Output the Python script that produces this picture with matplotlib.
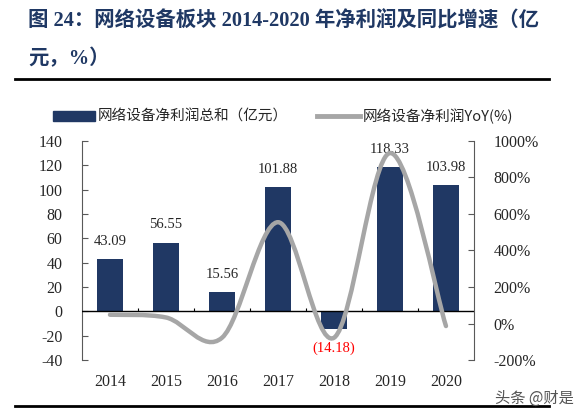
import matplotlib
matplotlib.use("Agg")
import matplotlib.pyplot as plt
from matplotlib.path import Path
from matplotlib.patches import PathPatch, Patch
from matplotlib.lines import Line2D
import numpy as np

# chart data
years = ["2014", "2015", "2016", "2017", "2018", "2019", "2020"]
profit = [43.09, 56.55, 15.56, 101.88, -14.18, 118.33, 103.98]   # 亿元
yoy = [48, 33, -78, 555, -78, 934, -14]
profit_labels = ["43.09", "56.55", "15.56", "101.88", "(14.18)", "118.33", "103.98"]

left_ticks = [-40, -20, 0, 20, 40, 60, 80, 100, 120, 140]
right_ticks = [-200, 0, 200, 400, 600, 800, 1000]

NAVY = "#203864"
GRAY = "#a6a6a6"
TXT = "#262626"
serif = ["Liberation Serif", "Noto Sans CJK SC"]
cjk = ["Noto Sans CJK SC", "DejaVu Sans"]


def smooth_path(xs, ys):
    # Excel style smoothed line: cubic bezier through each point
    pts = np.column_stack([xs, ys]).astype(float)
    ext = np.vstack([pts[0], pts, pts[-1]])
    verts = [pts[0]]
    codes = [Path.MOVETO]
    for i in range(len(pts) - 1):
        p0, p1, p2, p3 = ext[i], ext[i + 1], ext[i + 2], ext[i + 3]
        verts += [p1 + (p2 - p0) / 6, p2 - (p3 - p1) / 6, p2]
        codes += [Path.CURVE4] * 3
    return Path(verts, codes)


fig = plt.figure(figsize=(5.84, 4.19), dpi=100)
ax = fig.add_axes([0.1404, 0.1408, 0.6712, 0.5227])
x = np.arange(len(years))

ax.bar(x, profit, width=0.46, color=NAVY, zorder=2)
ax.axhline(0, color="black", lw=1, zorder=3)
# small ticks on the zero line between categories
ax.vlines(x[:-1] + 0.5, 0, 2.5, color="black", lw=0.8, zorder=3)

for xi, v, lab in zip(x, profit, profit_labels):
    if v >= 0:
        ax.annotate(lab, (xi, v), xytext=(0, 8), textcoords="offset points",
                    ha="center", va="bottom", fontsize=10.5, family=serif, color=TXT)
    else:
        ax.annotate(lab, (xi, v), xytext=(0, -9), textcoords="offset points",
                    ha="center", va="top", fontsize=10.5, family=serif, color="#ff0000")

ax.set_xlim(-0.5, len(years) - 0.5)
ax.set_ylim(-40, 140)
ax.set_yticks(left_ticks)
ax.set_yticklabels([str(t) for t in left_ticks], family=serif, fontsize=11.5, color=TXT)
ax.set_xticks(x)
ax.set_xticklabels(years, family=serif, fontsize=11.5, color=TXT)
ax.tick_params(axis="x", length=0, pad=10)
ax.tick_params(axis="y", direction="in", length=4, color="#595959", pad=14)
for s in ["top", "bottom", "right"]:
    ax.spines[s].set_visible(False)
ax.spines["left"].set_color("#595959")

ax2 = ax.twinx()
ax2.set_ylim(-200, 1000)
ax2.set_yticks(right_ticks)
ax2.set_yticklabels([f"{t}%" for t in right_ticks], family=serif, fontsize=11.5, color=TXT)
ax2.tick_params(axis="y", direction="in", length=4, color="#595959", pad=14)
for s in ["top", "bottom", "left"]:
    ax2.spines[s].set_visible(False)
ax2.spines["right"].set_color("#595959")
ax2.add_patch(PathPatch(smooth_path(x, yoy), fill=False, edgecolor=GRAY,
                        lw=3.2, capstyle="round", zorder=4))

handles = [Patch(color=NAVY), Line2D([], [], color=GRAY, lw=3.5)]
fig.legend(handles, ["网络设备净利润总和（亿元）", "网络设备净利润YoY(%)"],
           loc="center left", bbox_to_anchor=(0.068, 0.723), ncol=2, frameon=False,
           prop={"family": cjk, "size": 10.5}, handlelength=2.9, handleheight=0.7,
           handletextpad=0.2, columnspacing=2.0, labelcolor=TXT)

# title and rules
fig.text(0.048, 0.952, "图 24：网络设备板块 2014-2020 年净利润及同比增速（亿",
         family=serif, fontsize=14.7, fontweight="bold", color="#1f3864", va="center")
fig.text(0.048, 0.859, "元，%）", family=serif, fontsize=14.7, fontweight="bold",
         color="#1f3864", va="center")
fig.add_artist(Line2D([0.026, 0.940], [0.811, 0.811], color="black", lw=2))
fig.add_artist(Line2D([0.026, 0.940], [0.031, 0.031], color="black", lw=2))
fig.text(0.848, 0.050, "头条 @财是", family=cjk, fontsize=11, color="#555555", va="center")

fig.savefig("out.png", dpi=100)
